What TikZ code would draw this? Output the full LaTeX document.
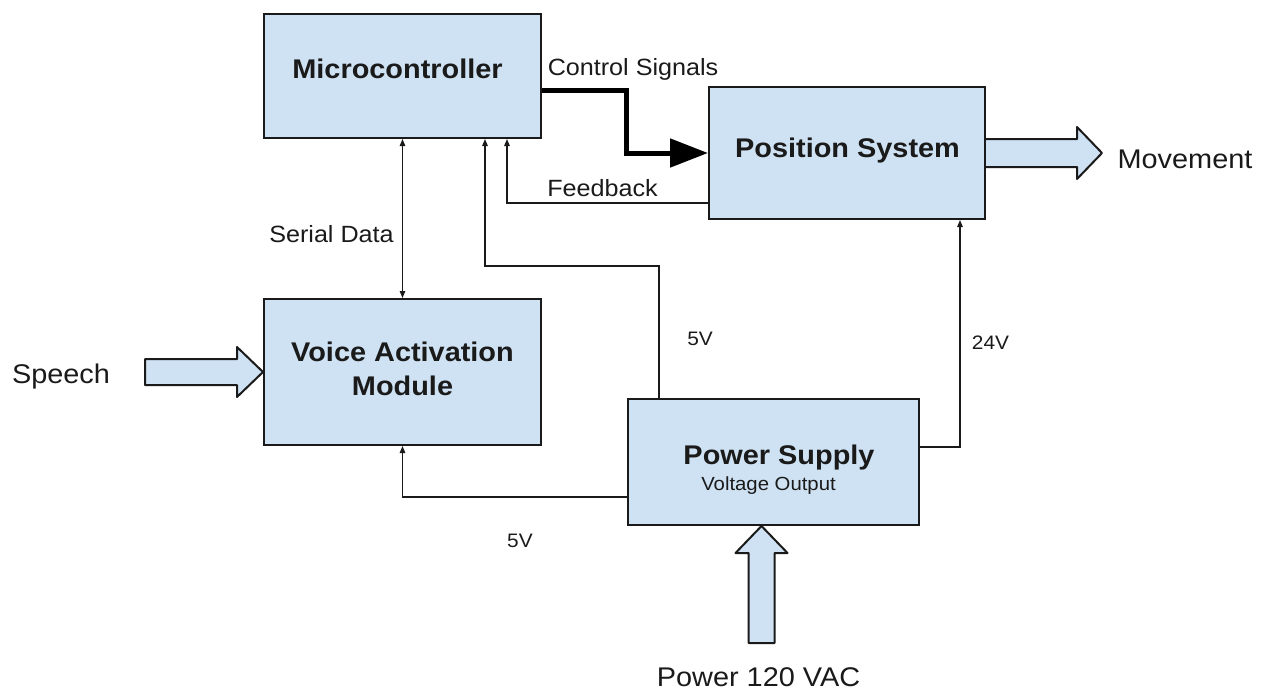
\documentclass[tikz,border=0pt]{standalone}
\usepackage{fontspec}
\setmainfont{Liberation Sans}[FakeStretch=1.07]
\usetikzlibrary{arrows.meta}
\definecolor{boxfill}{HTML}{CFE2F3}
\definecolor{ink}{HTML}{1A1A1A}
\tikzset{
  box/.style={draw=ink, fill=boxfill, line width=2pt, inner sep=0pt},
  title/.style={anchor=base, text=ink, font=\bfseries\fontsize{27}{32}\selectfont},
  biglabel/.style={anchor=base, text=ink, font=\fontsize{27}{32}\selectfont},
  midlabel/.style={anchor=base, text=ink, font=\fontsize{23.5}{28}\selectfont},
  smalllabel/.style={anchor=base, text=ink, font=\fontsize{19.5}{23}\selectfont},
  sig/.style={draw=ink, line width=1.3pt, -{Triangle[length=7pt,width=5.5pt]}},
  ctrl/.style={draw=black, line width=5pt, line join=miter, -{Triangle[length=38pt,width=28pt]}},
  blockarrow/.style={draw=ink, fill=boxfill, line width=2pt, line join=round},
}
\begin{document}
\begin{tikzpicture}[x=1pt,y=-1pt]
\useasboundingbox (0,0) rectangle (1268,696);
% boxes
\node[box, minimum width=277pt, minimum height=124pt] (mc) at (402.5,76) {};
\node[box, minimum width=276pt, minimum height=132pt] (pos) at (847,153) {};
\node[box, minimum width=277pt, minimum height=146pt] (vam) at (402.5,372) {};
\node[box, minimum width=291pt, minimum height=126pt] (ps) at (773.5,462) {};
% box titles
\node[title] (mct) at (397.5,78) {Microcontroller};
\node[title] (post) at (847.5,157) {Position System};
\node[title] (vamt1) at (402.5,361) {Voice Activation};
\node[title] (vamt2) at (402.5,395) {Module};
\node[title] (pst) at (779,464) {Power Supply};
\node[anchor=base, text=ink, font=\fontsize{19}{22}\selectfont] (pss) at (768.5,490) {Voltage Output};
% connectors
\draw[sig, {Triangle[length=7pt,width=5.5pt]}-{Triangle[length=7pt,width=5.5pt]}] (mc.south) -- (vam.north);
\coordinate (k5) at (485,266);
\draw[sig] ([xshift=32pt]ps.north west) |- (k5) -- (k5 |- mc.south);
\draw[sig] ([yshift=17pt]pos.south west) -| ([xshift=244pt]mc.south west);
\draw[sig] ([yshift=79pt]ps.south east) -| ([xshift=-26pt]pos.south east);
\draw[sig] ([yshift=29pt]ps.south west) -| (vam.south);
\draw[ctrl] ([yshift=-77pt]mc.north east) -- ++(84,0) |- (pos.west);
% block arrows
\path[blockarrow] (pos.east) ++(0,-14) -- ++(91,0) -- ++(0,-12) -- ++(25,26) -- ++(-25,26) -- ++(0,-12) -- ++(-91,0);
\path[blockarrow] (vam.west) -- ++(-26,-25) -- ++(0,12) -- ++(-92,0) -- ++(0,26) -- ++(92,0) -- ++(0,12) -- cycle;
\path[blockarrow] ([xshift=-12pt]ps.south) -- ++(26,27) -- ++(-13,0) -- ++(0,90) -- ++(-26,0) -- ++(0,-90) -- ++(-13,0) -- cycle;
% labels
\node[midlabel] (lcs) at (633,75) {Control Signals};
\node[midlabel] (lfb) at (602.5,196) {Feedback};
\node[midlabel] (lsd) at (331.5,242) {Serial Data};
\node[smalllabel] (l5a) at (700,345) {5V};
\node[smalllabel] (l24) at (990.5,349) {24V};
\node[smalllabel] (l5b) at (520,547) {5V};
\node[biglabel] (lmv) at (1185,168) {Movement};
\node[biglabel] (lsp) at (61,383) {Speech};
\node[biglabel] (lpw) at (758.5,686) {Power 120 VAC};
\end{tikzpicture}
\end{document}
